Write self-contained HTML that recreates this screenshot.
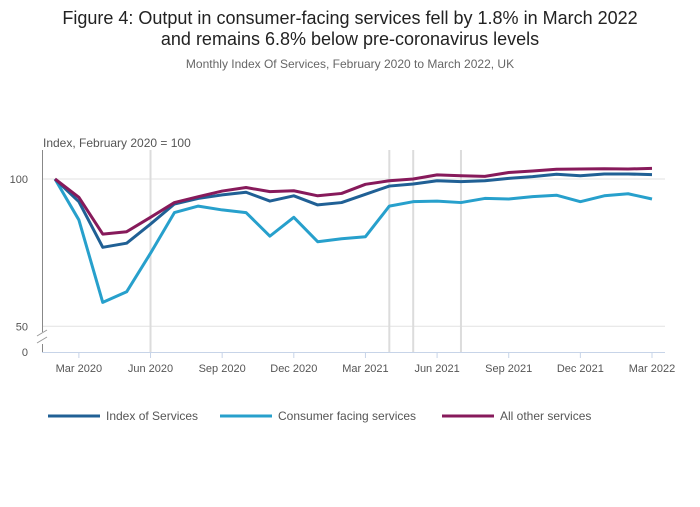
<!DOCTYPE html>
<html><head><meta charset="utf-8"><style>
body{margin:0;background:#fff;font-family:"Liberation Sans","DejaVu Sans",sans-serif}
svg text{font-family:"Liberation Sans","DejaVu Sans",sans-serif}
</style></head><body>
<svg id="chart" width="700" height="502" xmlns="http://www.w3.org/2000/svg">
<text x="350" y="24" text-anchor="middle" font-size="18" fill="#222">Figure 4: Output in consumer-facing services fell by 1.8% in March 2022</text>
<text x="350" y="45" text-anchor="middle" font-size="18" fill="#222">and remains 6.8% below pre-coronavirus levels</text>
<text x="350" y="68" text-anchor="middle" font-size="12" fill="#666">Monthly Index Of Services, February 2020 to March 2022, UK</text>
<text x="43" y="147" font-size="12" fill="#555">Index, February 2020 = 100</text>
<g id="grid"></g><g id="axes"></g><g id="series"></g>
<g font-size="12" fill="#555">
<line x1="48" y1="416" x2="100" y2="416" stroke="#206095" stroke-width="3"/><text x="106" y="420">Index of Services</text>
<line x1="220" y1="416" x2="272" y2="416" stroke="#27a0cc" stroke-width="3"/><text x="278" y="420">Consumer facing services</text>
<line x1="442" y1="416" x2="494" y2="416" stroke="#871a5b" stroke-width="3"/><text x="500" y="420">All other services</text>
</g>
</svg>
<script>
const months=["Feb 2020","Mar 2020","Apr 2020","May 2020","Jun 2020","Jul 2020","Aug 2020","Sep 2020","Oct 2020","Nov 2020","Dec 2020","Jan 2021","Feb 2021","Mar 2021","Apr 2021","May 2021","Jun 2021","Jul 2021","Aug 2021","Sep 2021","Oct 2021","Nov 2021","Dec 2021","Jan 2022","Feb 2022","Mar 2022"];
const indexOfServices=[100,92.3,76.8,78.2,84.7,91.5,93.4,94.6,95.5,92.5,94.3,91.2,92.0,94.8,97.6,98.3,99.4,99.1,99.4,100.2,100.8,101.6,101.1,101.7,101.7,101.5];
const consumerFacing=[100,86.1,58.1,61.7,74.8,88.6,90.8,89.5,88.6,80.6,87.0,78.7,79.7,80.4,90.8,92.3,92.5,92.0,93.4,93.2,94.0,94.5,92.3,94.3,95.0,93.2];
const allOther=[100,93.8,81.3,82.1,87.0,92.0,94.0,95.9,97.1,95.7,96.0,94.3,95.1,98.2,99.4,100,101.4,101.1,100.9,102.2,102.7,103.3,103.4,103.5,103.4,103.6];
const yTicks=[50,100];
const xTickLabels=["Mar 2020","Jun 2020","Sep 2020","Dec 2020","Mar 2021","Jun 2021","Sep 2021","Dec 2021","Mar 2022"];
const markerMonths=["Jun 2020","Apr 2021","May 2021","Jul 2021"];
const NS="http://www.w3.org/2000/svg";
const x=i=>55+i*23.88;
const y=v=>179-(v-100)*2.945;
function mk(tag,attrs,parent){const e=document.createElementNS(NS,tag);for(const k in attrs)e.setAttribute(k,attrs[k]);document.getElementById(parent).appendChild(e);return e;}
yTicks.forEach(t=>{
 const l=mk("line",{x1:42,x2:665,y1:y(t),y2:y(t),stroke:"#e2e2e2","stroke-width":1},"grid");
 
 
 const tx=mk("text",{x:28,y:y(t)+4,"text-anchor":"end","font-size":11,fill:"#555"},"grid");tx.textContent=t;
 
 
});
markerMonths.forEach(m=>{
 const i=months.indexOf(m);
 const l=mk("line",{x1:x(i),x2:x(i),y1:150,y2:352,stroke:"#dcdcdc","stroke-width":2},"grid");
 
 
});
const z=mk("text",{x:28,y:356,"text-anchor":"end","font-size":11,fill:"#555"},"axes");z.textContent="0";


const ya=mk("path",{d:"M42.5 150 V332 M42.5 344 V352",stroke:"#888",fill:"none"},"axes");


const br=mk("path",{d:"M37 336 L47 330 M37 343 L47 337",stroke:"#999",fill:"none"},"axes");


const xa=mk("line",{x1:42,x2:665,y1:352.5,y2:352.5,stroke:"#c7d4e8"},"axes");


xTickLabels.forEach(lb=>{
 const i=months.indexOf(lb);
 const t=mk("line",{x1:x(i),x2:x(i),y1:352,y2:358,stroke:"#c7d4e8"},"axes");
 
 
 const tx=mk("text",{x:x(i),y:372,"text-anchor":"middle","font-size":11,fill:"#555"},"axes");tx.textContent=lb;
 
 
});
[[consumerFacing,"#27a0cc","line-consumer-facing"],[indexOfServices,"#206095","line-index-of-services"],[allOther,"#871a5b","line-all-other-services"]].forEach(([d,c,n])=>{
 const p=mk("polyline",{points:d.map((v,i)=>x(i)+","+y(v)).join(" "),fill:"none",stroke:c,"stroke-width":3,"stroke-linejoin":"round"},"series");
 
 
});
</script>
</body></html>
